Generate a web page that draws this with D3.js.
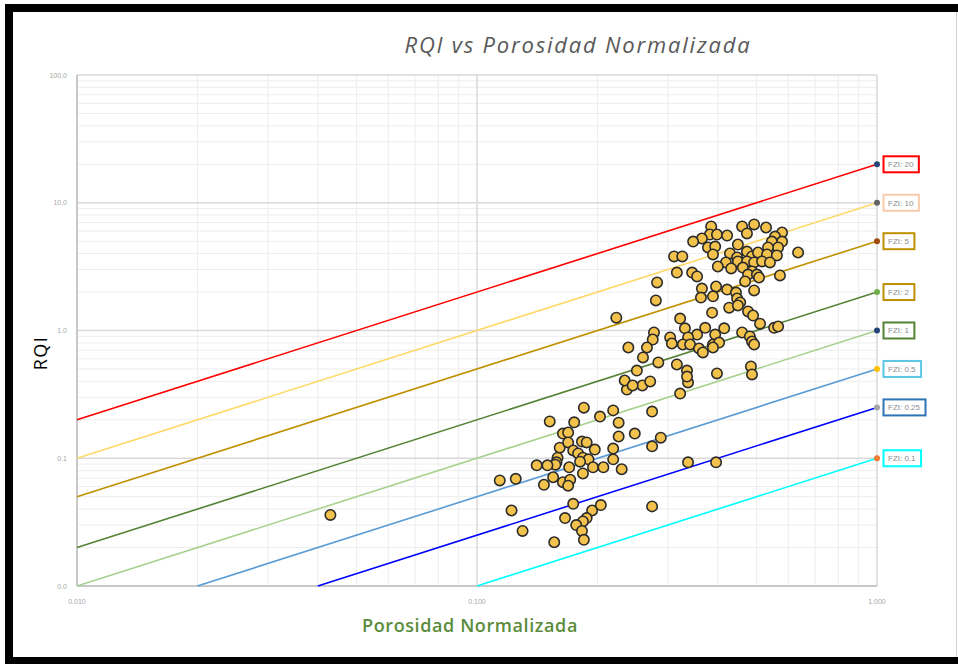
<!DOCTYPE html>
<html>
<head>
<meta charset="utf-8">
<script src="https://cdn.jsdelivr.net/npm/d3@7"></script>
<style>
  body { margin: 0; background: #fff; }
  svg { display: block; }
</style>
</head>
<body>
<div id="chart"></div>
<script>
// FZI reference lines
const fziValues = [20, 10, 5, 2, 1, 0.5, 0.25, 0.1];
const fziLabels = ["FZI: 20", "FZI: 10", "FZI: 5", "FZI: 2", "FZI: 1", "FZI: 0.5", "FZI: 0.25", "FZI: 0.1"];
const fziLineColors = ["#ff0000", "#ffd966", "#bf9000", "#548235", "#a9d18e", "#5b9bd5", "#0000ff", "#00ffff"];
const fziMarkerColors = ["#264478", "#636363", "#9e480e", "#70ad47", "#264478", "#ffc000", "#a5a5a5", "#ed7d31"];
const fziBoxColors = ["#ff0000", "#f8cbad", "#bf9000", "#bf9000", "#548235", "#5bc8e6", "#2e75b6", "#00ffff"];

// samples: normalized porosity (phi z) and RQI
const phiZ = [
  0.152, 0.175, 0.185, 0.203, 0.219, 0.226, 0.226, 0.248, 0.274, 0.288,
  0.274, 0.322, 0.337, 0.237, 0.259, 0.271, 0.234, 0.245, 0.164, 0.169,
  0.161, 0.169, 0.183, 0.188, 0.197, 0.174, 0.179, 0.184, 0.190, 0.181,
  0.159, 0.158, 0.157, 0.150, 0.141, 0.170, 0.195, 0.207, 0.219, 0.219,
  0.230, 0.184, 0.155, 0.147, 0.164, 0.171, 0.169, 0.125, 0.114, 0.337,
  0.396, 0.174, 0.122, 0.166, 0.194, 0.204, 0.188, 0.184, 0.177, 0.183,
  0.185, 0.130, 0.156, 0.274, 0.043,
  0.385, 0.493, 0.528, 0.460, 0.473, 0.382, 0.398, 0.422, 0.365, 0.347,
  0.378, 0.394, 0.449, 0.579, 0.556, 0.546, 0.579, 0.566, 0.534, 0.635,
  0.389, 0.311, 0.326, 0.429, 0.473, 0.447, 0.487, 0.504, 0.531, 0.562,
  0.419, 0.449, 0.473, 0.493, 0.516, 0.540, 0.400, 0.432, 0.462, 0.487,
  0.476, 0.501, 0.507, 0.468, 0.572, 0.316, 0.345, 0.355, 0.282, 0.365,
  0.396, 0.422, 0.444, 0.493, 0.363, 0.389, 0.280, 0.447, 0.455, 0.427,
  0.449, 0.387, 0.476, 0.490, 0.223, 0.322, 0.510, 0.553, 0.566, 0.331,
  0.277, 0.372, 0.415, 0.355, 0.394, 0.460, 0.275, 0.304, 0.337, 0.307,
  0.327, 0.341, 0.389, 0.403, 0.481, 0.487, 0.493, 0.239, 0.266, 0.359,
  0.367, 0.389, 0.260, 0.284, 0.316, 0.484, 0.487, 0.335, 0.335, 0.398,
  0.251
];
const rqi = [
  0.194, 0.191, 0.249, 0.212, 0.237, 0.190, 0.148, 0.156, 0.232, 0.145,
  0.124, 0.321, 0.392, 0.345, 0.371, 0.399, 0.406, 0.371, 0.156, 0.159,
  0.121, 0.133, 0.135, 0.133, 0.117, 0.115, 0.109, 0.101, 0.098, 0.094,
  0.101, 0.093, 0.089, 0.088, 0.088, 0.085, 0.085, 0.085, 0.098, 0.119,
  0.082, 0.076, 0.071, 0.062, 0.065, 0.068, 0.061, 0.069, 0.067, 0.093,
  0.093, 0.044, 0.039, 0.034, 0.039, 0.043, 0.034, 0.032, 0.030, 0.027,
  0.023, 0.027, 0.022, 0.042, 0.036,
  6.52, 6.76, 6.40, 6.52, 5.75, 5.64, 5.64, 5.54, 5.25, 4.97,
  4.47, 4.54, 4.71, 5.85, 5.44, 4.97, 4.97, 4.47, 4.47, 4.08,
  3.94, 3.80, 3.80, 4.01, 4.15, 3.73, 3.80, 4.08, 3.94, 3.87,
  3.41, 3.47, 3.47, 3.41, 3.47, 3.41, 3.17, 3.06, 3.11, 2.90,
  2.74, 2.74, 2.60, 2.42, 2.70, 2.84, 2.84, 2.65, 2.38, 2.13,
  2.21, 2.09, 1.98, 2.06, 1.81, 1.85, 1.72, 1.78, 1.66, 1.51,
  1.57, 1.38, 1.41, 1.31, 1.26, 1.24, 1.13, 1.05, 1.075, 1.04,
  0.965, 1.05, 1.04, 0.930, 0.930, 0.965, 0.850, 0.882, 0.882, 0.791,
  0.777, 0.777, 0.777, 0.805, 0.898, 0.820, 0.777, 0.736, 0.736, 0.723,
  0.673, 0.736, 0.615, 0.562, 0.542, 0.523, 0.453, 0.486, 0.436, 0.461,
  0.486
];

const yTicks = [0.01, 0.1, 1, 10, 100];
const yTickLabels = ["0.0", "0.1", "1.0", "10.0", "100.0"];
const xTicks = [0.01, 0.1, 1];
const xTickLabels = ["0.010", "0.100", "1.000"];

const W = 958, H = 664;
const svg = d3.select("#chart").append("svg").attr("width", W).attr("height", H);

const x = d3.scaleLog().domain([0.01, 1]).range([77, 877]);
const y = d3.scaleLog().domain([0.01, 100]).range([586, 75]);

// frame
svg.append("rect").attr("x", 0).attr("y", 0).attr("width", W).attr("height", H).attr("fill", "#fff");
svg.append("rect")
    .attr("x", 9).attr("y", 8).attr("width", W + 20).attr("height", 653)
    .attr("fill", "none").attr("stroke", "#000").attr("stroke-width", 8);
svg.append("line").attr("x1", 956.5).attr("x2", 956.5).attr("y1", 12).attr("y2", 657)
    .attr("stroke", "#d0d0d0").attr("stroke-width", 1);

// grid
const minorX = [], minorY = [];
for (let e = -2; e < 0; e++) for (let k = 2; k <= 9; k++) minorX.push(k * Math.pow(10, e));
for (let e = -2; e < 2; e++) for (let k = 2; k <= 9; k++) minorY.push(k * Math.pow(10, e));

const grid = svg.append("g");
grid.selectAll(".mx").data(minorX).enter().append("line")
    .attr("x1", d => x(d)).attr("x2", d => x(d))
    .attr("y1", y(100)).attr("y2", y(0.01))
    .attr("stroke", "#ededed").attr("stroke-width", 1);
grid.selectAll(".my").data(minorY).enter().append("line")
    .attr("y1", d => y(d)).attr("y2", d => y(d))
    .attr("x1", x(0.01)).attr("x2", x(1))
    .attr("stroke", "#ededed").attr("stroke-width", 1);
grid.selectAll(".Mx").data(xTicks).enter().append("line")
    .attr("x1", d => x(d)).attr("x2", d => x(d))
    .attr("y1", y(100)).attr("y2", y(0.01))
    .attr("stroke", "#d9d9d9").attr("stroke-width", 1.5);
grid.selectAll(".My").data(yTicks).enter().append("line")
    .attr("y1", d => y(d)).attr("y2", d => y(d))
    .attr("x1", x(0.01)).attr("x2", x(1))
    .attr("stroke", "#d9d9d9").attr("stroke-width", 1.5);
// axis lines
svg.append("line").attr("x1", x(0.01)).attr("x2", x(0.01)).attr("y1", y(100)).attr("y2", y(0.01))
    .attr("stroke", "#c8c8c8").attr("stroke-width", 2);
svg.append("line").attr("x1", x(0.01)).attr("x2", x(1)).attr("y1", y(0.01)).attr("y2", y(0.01))
    .attr("stroke", "#c8c8c8").attr("stroke-width", 2);

// tick labels
svg.append("g").selectAll("text").data(yTicks).enter().append("text")
    .attr("x", 67).attr("y", d => y(d) + 2.5)
    .attr("text-anchor", "end")
    .attr("font-family", "Liberation Sans, Arial, sans-serif").attr("font-size", 7)
    .attr("fill", "#a6a6a6")
    .text((d, i) => yTickLabels[i]);
svg.append("g").selectAll("text").data(xTicks).enter().append("text")
    .attr("x", d => x(d)).attr("y", 604)
    .attr("text-anchor", "middle")
    .attr("font-family", "Liberation Sans, Arial, sans-serif").attr("font-size", 7)
    .attr("fill", "#a6a6a6")
    .text((d, i) => xTickLabels[i]);

// FZI lines
const fzi = fziValues.map((f, i) => ({
    f: f,
    pts: [[Math.max(0.01, 0.01 / f), Math.max(0.01, 0.01 / f) * f], [1, f]],
    i: i
}));
const line = d3.line().x(d => x(d[0])).y(d => y(d[1]));
svg.append("g").selectAll("path").data(fzi).enter().append("path")
    .attr("d", d => line(d.pts))
    .attr("fill", "none")
    .attr("stroke", d => fziLineColors[d.i])
    .attr("stroke-width", 1.6);

// scatter
const pts = phiZ.map((p, i) => ({ p: p, r: rqi[i] }));
svg.append("g").selectAll("circle").data(pts).enter().append("circle")
    .attr("cx", d => x(d.p)).attr("cy", d => y(d.r))
    .attr("r", 5.2)
    .attr("fill", "#f2c24c")
    .attr("stroke", "#2b2b2b")
    .attr("stroke-width", 1.6);

// end markers and labels
const lab = svg.append("g");
fzi.forEach(d => {
    lab.append("circle").attr("cx", x(1)).attr("cy", y(d.f)).attr("r", 3)
        .attr("fill", fziMarkerColors[d.i]);
    const t = lab.append("text")
        .attr("x", 888).attr("y", y(d.f) + 2.8)
        .attr("font-family", "Liberation Sans, Arial, sans-serif").attr("font-size", 8)
        .attr("fill", "#8c8c8c")
        .text(fziLabels[d.i]);
    const w = t.node().getComputedTextLength();
    lab.insert("rect", "text")
        .attr("x", 883.5).attr("y", y(d.f) - 8)
        .attr("width", w + 10).attr("height", 16)
        .attr("fill", "#fff")
        .attr("stroke", fziBoxColors[d.i]).attr("stroke-width", 2);
});

// titles
svg.append("text")
    .attr("x", 578).attr("y", 53)
    .attr("text-anchor", "middle")
    .attr("font-family", "Open Sans, sans-serif").attr("font-style", "italic")
    .attr("font-size", 22).attr("fill", "#595959")
    .attr("letter-spacing", 1.8)
    .text("RQI vs Porosidad Normalizada");
svg.append("text")
    .attr("x", 470).attr("y", 632)
    .attr("text-anchor", "middle")
    .attr("font-family", "Open Sans, sans-serif").attr("font-weight", 600)
    .attr("font-size", 18).attr("fill", "#5b8c3c")
    .attr("letter-spacing", 0.6)
    .text("Porosidad Normalizada");
svg.append("text")
    .attr("transform", "translate(47,353) rotate(-90)")
    .attr("text-anchor", "middle")
    .attr("font-family", "Open Sans, sans-serif")
    .attr("font-size", 18).attr("fill", "#000")
    .attr("letter-spacing", 1.5)
    .text("RQI");
</script>
</body>
</html>
